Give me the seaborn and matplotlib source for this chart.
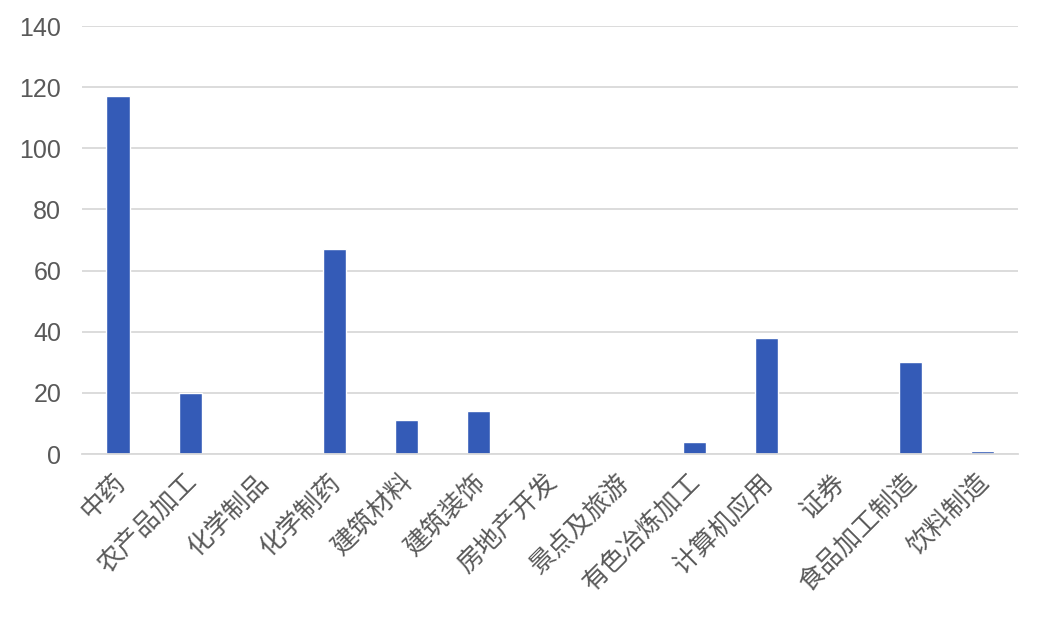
import matplotlib
matplotlib.use("Agg")
import matplotlib.pyplot as plt
import matplotlib.transforms as mtransforms
import seaborn as sns
import pandas as pd

categories = ["中药", "农产品加工", "化学制品", "化学制药", "建筑材料", "建筑装饰", "房地产开发",
              "景点及旅游", "有色冶炼加工", "计算机应用", "证券", "食品加工制造", "饮料制造"]
values = [117, 20, 0, 67, 11, 14, 0, 0, 4, 38, 0, 30, 1]
yticks = [0, 20, 40, 60, 80, 100, 120, 140]

sns.set_theme(style="white")
plt.rcParams['font.family'] = ['Noto Sans CJK SC', 'DejaVu Sans']

df = pd.DataFrame({"cat": categories, "val": values})

fig = plt.figure(figsize=(10.38, 6.24), dpi=100)
ax = fig.add_axes([0.079, 0.2724, 0.902, 0.6858])
sns.barplot(data=df, x="cat", y="val", color="#345BB7", saturation=1, width=0.32, ax=ax)

ax.set_ylim(0, 140)
ax.set_yticks(yticks)
ax.set_yticklabels([str(t) for t in yticks], fontsize=18, color="#595959",
                   family=['Liberation Sans', 'DejaVu Sans'])
ax.yaxis.grid(True, color="#D9D9D9", linewidth=1.3)
ax.set_axisbelow(True)
ax.set_xlim(-0.5, len(categories) - 0.5)
ax.set_xlabel("")
ax.set_ylabel("")
ax.set_xticks(range(len(categories)))
ax.set_xticklabels(categories, rotation=45, ha="right", rotation_mode="anchor",
                   fontsize=18.5, color="#595959", fontweight="light")
ax.tick_params(axis="y", length=0, pad=15)
ax.tick_params(axis="x", length=0, pad=11)
offset = mtransforms.ScaledTranslation(-6 / 100, 0, fig.dpi_scale_trans)
for lbl in ax.get_xticklabels():
    lbl.set_transform(lbl.get_transform() + offset)
for s in ["top", "right", "left"]:
    ax.spines[s].set_visible(False)
ax.spines["bottom"].set_color("#D9D9D9")
ax.spines["bottom"].set_linewidth(1.3)

fig.savefig("out.png", dpi=100)
